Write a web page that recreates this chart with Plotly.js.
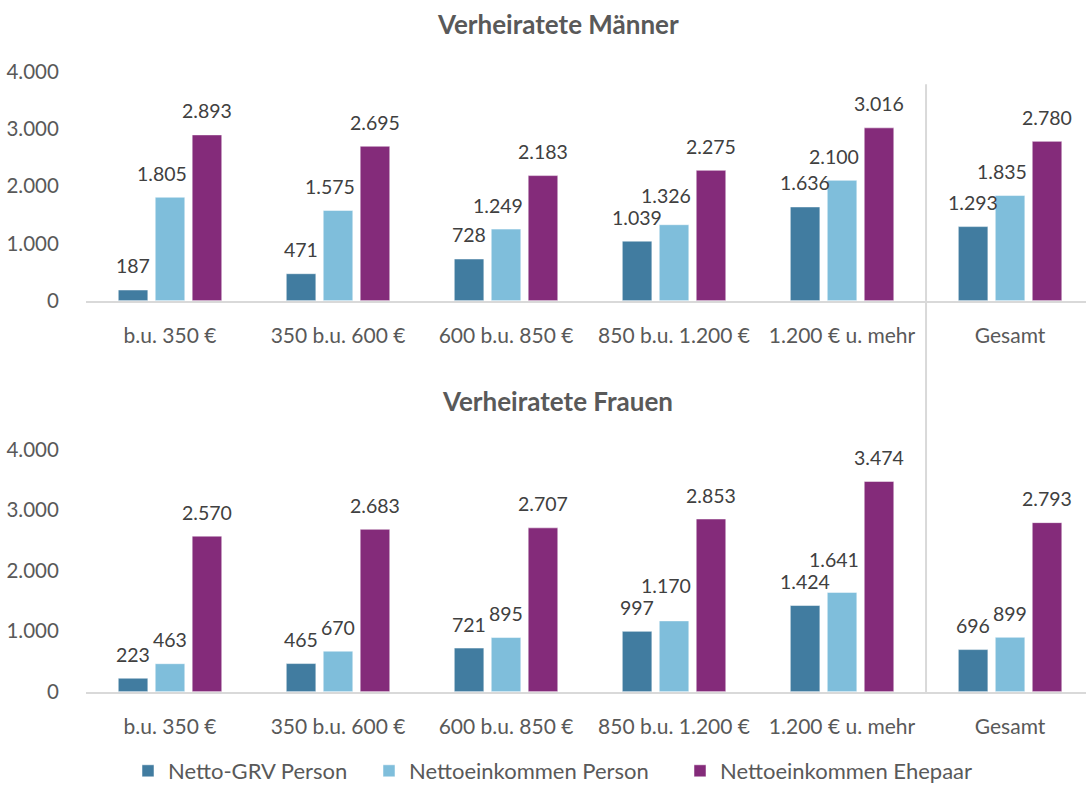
<!DOCTYPE html>
<html>
<head>
<meta charset="utf-8">
<script src="https://cdn.plot.ly/plotly-3.0.1.min.js"></script>
<style>html,body{margin:0;padding:0;background:#fff;}#chart{width:1086px;height:792px;}</style>
</head>
<body>
<div id="chart"></div>
<script>
const categories = ["b.u. 350 €", "350 b.u. 600 €", "600 b.u. 850 €", "850 b.u. 1.200 €", "1.200 € u. mehr", "Gesamt"];
const seriesNames = ["Netto-GRV Person", "Nettoeinkommen Person", "Nettoeinkommen Ehepaar"];
const titleMen = "Verheiratete Männer";
const titleWomen = "Verheiratete Frauen";
const yTicks = [0, 1000, 2000, 3000, 4000];

const menGRV = [187, 471, 728, 1039, 1636, 1293];
const menNettoPerson = [1805, 1575, 1249, 1326, 2100, 1835];
const menNettoEhepaar = [2893, 2695, 2183, 2275, 3016, 2780];

const womenGRV = [223, 465, 721, 997, 1424, 696];
const womenNettoPerson = [463, 670, 895, 1170, 1641, 899];
const womenNettoEhepaar = [2570, 2683, 2707, 2853, 3474, 2793];

const colors = ["#417ca0", "#7fbedb", "#842b7a"];
const FONT = "Lato, 'Open Sans', sans-serif";
const TXT = "#595959";
const LBL = "#404040";
const LABEL_SIZE = 19.5;

const menSeries = [menGRV, menNettoPerson, menNettoEhepaar];
const womenSeries = [womenGRV, womenNettoPerson, womenNettoEhepaar];
const legendIds = ["legend", "legend2", "legend3"];

const traces = [];
menSeries.forEach((vals, i) => {
  traces.push({
    type: "bar", x: categories, y: vals, name: seriesNames[i],
    xaxis: "x", yaxis: "y",
    marker: {color: colors[i], line: {color: "#ffffff", width: 0.5}},
    legend: legendIds[i], showlegend: true, hoverinfo: "skip"
  });
});
womenSeries.forEach((vals, i) => {
  traces.push({
    type: "bar", x: categories, y: vals, name: seriesNames[i],
    xaxis: "x2", yaxis: "y2",
    marker: {color: colors[i], line: {color: "#ffffff", width: 0.5}},
    legend: legendIds[i], showlegend: false, hoverinfo: "skip"
  });
});

const annotations = [];
const offsets = [-37, 0, 37];
const BASE_SHIFT = 24;
function labelWidth(s) {
  let w = 0;
  for (const c of s) w += (c === ".") ? 0.26 * LABEL_SIZE : 0.58 * LABEL_SIZE;
  return w;
}
// place labels above bars; nudge a label upward if it would collide with its left neighbour,
// and nudge wide middle labels left when the bar on their right is taller
function addLabels(series, xr, yr, pxPerUnit) {
  for (let j = 0; j < categories.length; j++) {
    let prev = null;
    for (let i = 0; i < series.length; i++) {
      const v = series[i][j];
      const txt = v.toLocaleString("de-DE");
      const w = labelWidth(txt);
      const barPx = v * pxPerUnit;
      let centerPx = barPx + BASE_SHIFT;
      let dx = 0;
      if (prev) {
        const hOverlap = (prev.w + w) / 2 > Math.abs(offsets[i] - offsets[i - 1]);
        if (hOverlap && Math.abs(centerPx - prev.c) < 20) {
          centerPx = Math.max(centerPx, prev.c + 22);
        }
      }
      if (i === 1 && w > 40 && series[2][j] * pxPerUnit > centerPx) dx = -8;
      annotations.push({
        x: categories[j], y: v, xref: xr, yref: yr,
        text: txt, showarrow: false,
        xshift: offsets[i] + dx, yshift: centerPx - barPx,
        yanchor: "middle", xanchor: "center",
        font: {family: FONT, size: LABEL_SIZE, color: LBL}
      });
      prev = {c: centerPx, w: w};
    }
  }
}
addLabels(menSeries, "x", "y", (303 - 72) / 4000);
addLabels(womenSeries, "x2", "y2", (697 - 453) / 4000);

annotations.push({
  text: "<b>" + titleMen + "</b>", xref: "paper", yref: "paper",
  x: 0.4715, y: 1 - 24 / 792, showarrow: false, xanchor: "center", yanchor: "middle",
  font: {family: FONT, size: 26, color: TXT}
});
annotations.push({
  text: "<b>" + titleWomen + "</b>", xref: "paper", yref: "paper",
  x: 0.4715, y: 1 - 404 / 792, showarrow: false, xanchor: "center", yanchor: "middle",
  font: {family: FONT, size: 26, color: TXT}
});

const xaxisBase = {
  type: "category", range: [-0.5, 5.452], domain: [0, 1],
  showgrid: false, zeroline: false,
  showline: true, linecolor: "#d9d9d9", linewidth: 2,
  ticks: "outside", ticklen: 15, tickcolor: "rgba(0,0,0,0)",
  tickfont: {family: FONT, size: 21, color: TXT}, fixedrange: true
};
const yaxisBase = {
  range: [0, 4000], tickvals: yTicks, tickformat: ",d",
  showgrid: false, zeroline: false, showline: false,
  ticks: "outside", ticklen: 22, tickcolor: "rgba(0,0,0,0)",
  tickfont: {family: FONT, size: 20.5, color: TXT}, fixedrange: true
};

const legendBase = {
  orientation: "h", yref: "paper", y: 1 - 777 / 792, yanchor: "middle",
  xanchor: "left", font: {family: FONT, size: 22, color: TXT},
  bgcolor: "rgba(0,0,0,0)", itemwidth: 30
};

const layout = {
  width: 1086, height: 792,
  margin: {l: 86, r: 0, t: 0, b: 0},
  paper_bgcolor: "#ffffff", plot_bgcolor: "#ffffff",
  separators: ",.",
  barmode: "group", bargap: 0.34, bargroupgap: 0.2,
  font: {family: FONT, color: TXT},
  xaxis: Object.assign({}, xaxisBase, {anchor: "y"}),
  yaxis: Object.assign({}, yaxisBase, {anchor: "x", domain: [1 - 303 / 792, 1 - 72 / 792]}),
  xaxis2: Object.assign({}, xaxisBase, {anchor: "y2"}),
  yaxis2: Object.assign({}, yaxisBase, {anchor: "x2", domain: [1 - 697 / 792, 1 - 453 / 792]}),
  legend: Object.assign({}, legendBase, {x: 0.042}),
  legend2: Object.assign({}, legendBase, {x: 0.283}),
  legend3: Object.assign({}, legendBase, {x: 0.594}),
  shapes: [{
    type: "line", xref: "x", yref: "paper",
    x0: 4.5, x1: 4.5, y0: 1 - 698 / 792, y1: 1 - 85 / 792,
    line: {color: "#d9d9d9", width: 2}
  }],
  annotations: annotations
};

Plotly.newPlot("chart", traces, layout, {displayModeBar: false, staticPlot: true});
</script>
</body>
</html>
